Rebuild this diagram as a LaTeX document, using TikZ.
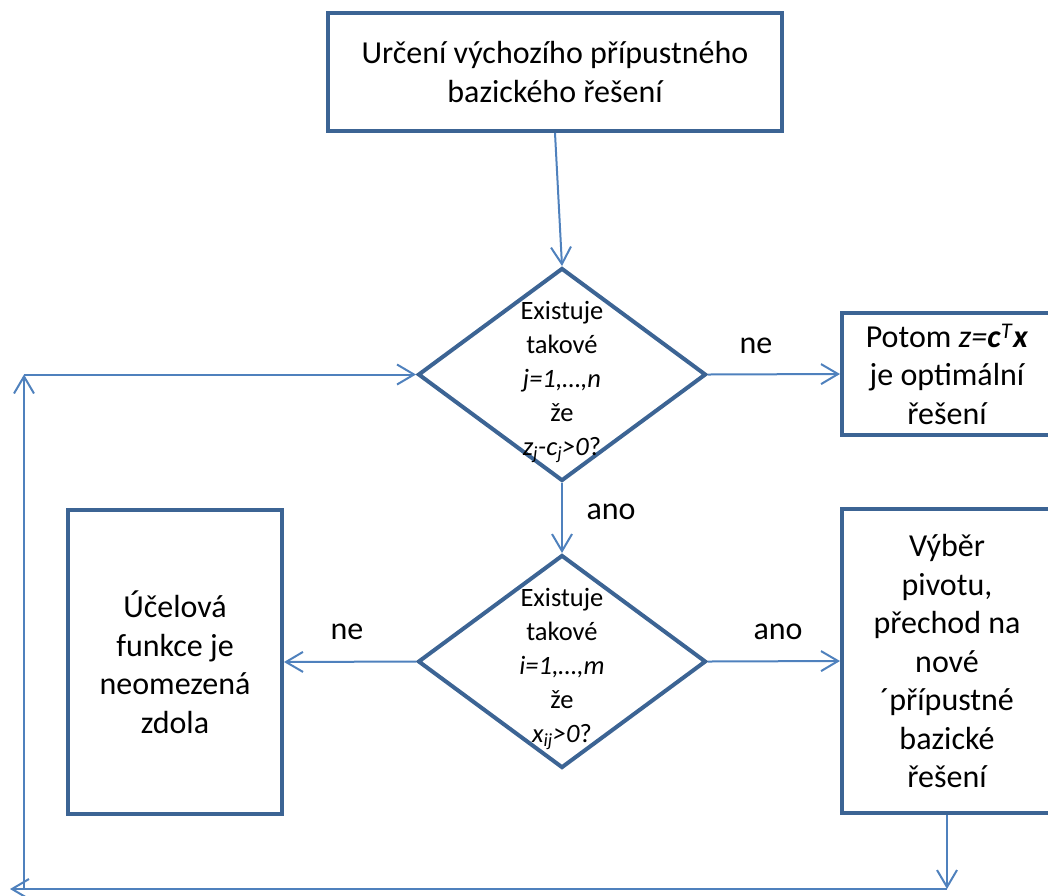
\documentclass[tikz,border=0pt]{standalone}
\usepackage{fontspec}
\setmainfont{Carlito}
\usetikzlibrary{shapes.geometric,arrows.meta}
\definecolor{boxblue}{HTML}{3C6494}
\definecolor{lineblue}{HTML}{4F81BD}
\begin{document}
\begin{tikzpicture}[x=1pt,y=-1pt]
                \tikzset{every node/.style={font=\fontsize{32}{38.5}\selectfont},
                    box/.style={draw=boxblue,line width=4pt,align=center,inner sep=0pt},
                    query/.style={draw=boxblue,line width=4pt,shape=diamond,inner sep=0pt,
                        minimum width=288pt,minimum height=213pt},
                    querytext/.style={align=center,font=\fontsize{26.5}{34}\selectfont},
                    conn/.style={draw=lineblue,line width=2pt,-{Straight Barb[length=17pt,width=20pt]}},
                    plain/.style={draw=lineblue,line width=2pt}}
                \useasboundingbox (0,0) rectangle (1048,895);
                \node[box,minimum width=454pt,minimum height=118pt] (start) at (555,72)
                    {Určení výchozího přípustného\\bazického řešení};
                \node[query] (q1) at (562,374.5) {};
                \node[querytext] (q1text) at (562,382)
                    {Existuje\\takové\\\textit{j=1,…,n}\\že\\\textit{z\textsubscript{j}-c\textsubscript{j}>0}?};
                \node[query] (q2) at (562,661.5) {};
                \node[querytext] (q2text) at (562,669)
                    {Existuje\\takové\\\textit{i=1,…,m}\\že\\\textit{x\textsubscript{ij}>0}?};
                \node[box,minimum width=210pt,minimum height=122pt] (opt) at (947,374)
                    {Potom \textit{z=}\textbf{\textit{c}}\textsuperscript{\textit{T}}\textbf{\textit{x}}\\je optimální\\řešení};
                \node[box,minimum width=214pt,minimum height=304pt] (unb) at (175,662)
                    {Účelová\\funkce je\\neomezená\\zdola};
                \node[box,minimum width=210pt,minimum height=304pt] (piv) at (947,661)
                    {Výběr\\pivotu,\\přechod na\\nové\\´přípustné\\bazické\\řešení};
                \node (ne1) at (756,346) {ne};
                \node (ano1) at (611,512) {ano};
                \node (ne2) at (347,632) {ne};
                \node (ano2) at (778,632) {ano};
                \coordinate (loopbr) at (947,889);
                \coordinate (loopend) at (10,889);
                \coordinate (loopbl) at (24,889);
                \coordinate (looptl) at (24,374.5);
                \draw[conn] (start.south) -- (q1.north);
                \draw[conn] (q1.east) -- (opt.west);
                \draw[conn] (q1.south) -- (q2.north);
                \draw[conn] (q2.west) -- (unb.east);
                \draw[conn] (q2.east) -- (piv.west);
                \draw[conn] (piv.south) -- (loopbr);
                \draw[conn] (loopbr) -- (loopend);
                \draw[conn] (loopbl) -- (looptl);
                \draw[conn] (looptl) -- (q1.west);
            \end{tikzpicture}
\end{document}
